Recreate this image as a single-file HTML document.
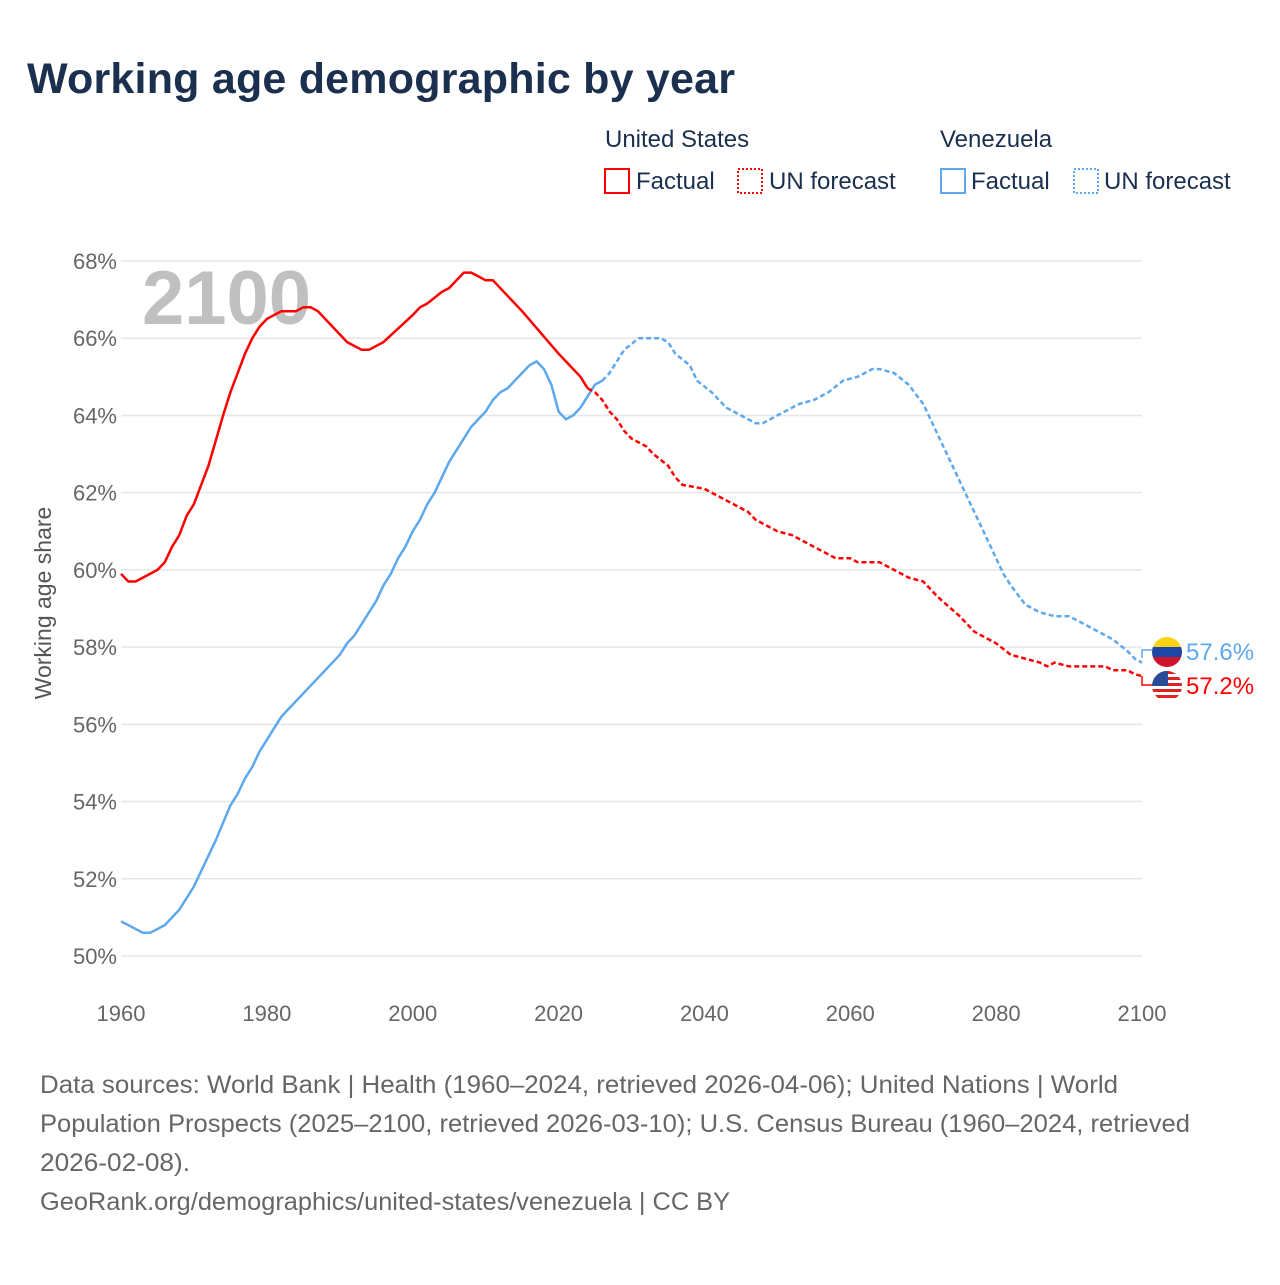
<!DOCTYPE html>
<html><head><meta charset="utf-8"><style>
body{margin:0;background:#fff;font-family:"Liberation Sans",sans-serif;}
svg text{font-family:"Liberation Sans",sans-serif;}
</style></head><body>
<svg width="1280" height="1280" viewBox="0 0 1280 1280" id="chart">
<text x="27" y="93" font-size="43" font-weight="bold" fill="#1b2f4e" textLength="708">Working age demographic by year</text>
<g font-size="24" fill="#1b2f4e">
<text x="605" y="147" fill="#1b2f4e">United States</text>
<text x="940" y="147" fill="#1b2f4e">Venezuela</text>
<g><rect x="605" y="169" width="24" height="24" fill="none" stroke="#ff0000" stroke-width="2"/><text x="636" y="189">Factual</text></g>
<g><rect x="738" y="169" width="24" height="24" fill="none" stroke="#ff0000" stroke-width="2" stroke-dasharray="2,2"/><text x="769" y="189">UN forecast</text></g>
<g><rect x="941" y="169" width="24" height="24" fill="none" stroke="#5ea8ee" stroke-width="2"/><text x="971" y="189">Factual</text></g>
<g><rect x="1074" y="169" width="24" height="24" fill="none" stroke="#5ea8ee" stroke-width="2" stroke-dasharray="2,2"/><text x="1104" y="189">UN forecast</text></g>
</g>
<g id="grid"></g>
<text x="142" y="324" font-size="76" font-weight="bold" fill="#c0c0c0">2100</text>
<text transform="translate(51,603) rotate(-90)" text-anchor="middle" font-size="23" fill="#555">Working age share</text>
<g id="series"></g>
<g>
<path d="M1142 658 L1142 650 L1152 650" fill="none" stroke="#5ea8ee" stroke-width="1.5"/>
<path d="M1142 676 L1142 685 L1152 685" fill="none" stroke="#ff0000" stroke-width="1.5"/>
<g>
<clipPath id="c1"><circle cx="1167" cy="652" r="15"/></clipPath>
<g clip-path="url(#c1)"><rect x="1150" y="636" width="34" height="11" fill="#fcd116"/><rect x="1150" y="647" width="34" height="10" fill="#1c46a8"/><rect x="1150" y="657" width="34" height="12" fill="#cf142b"/></g></g>
<g>
<clipPath id="c2"><circle cx="1167" cy="686" r="15"/></clipPath>
<g clip-path="url(#c2)"><rect x="1150" y="670" width="34" height="33" fill="#fff"/>
<rect x="1150" y="671" width="34" height="3" fill="#d22"/><rect x="1150" y="677" width="34" height="3" fill="#d22"/><rect x="1150" y="683" width="34" height="3" fill="#d22"/><rect x="1150" y="689" width="34" height="3" fill="#d22"/><rect x="1150" y="695" width="34" height="3" fill="#d22"/><rect x="1150" y="670" width="18" height="16" fill="#2a4a9a"/></g></g>
<text x="1186" y="660" font-size="24" fill="#5ea8ee">57.6%</text>
<text x="1186" y="694" font-size="24" fill="#ff0000">57.2%</text>
</g>
<g fill="#666">
<text x="40" y="1093" font-size="25" textLength="1078" lengthAdjust="spacingAndGlyphs">Data sources: World Bank | Health (1960–2024, retrieved 2026-04-06); United Nations | World</text>
<text x="40" y="1132" font-size="25" textLength="1150" lengthAdjust="spacingAndGlyphs">Population Prospects (2025–2100, retrieved 2026-03-10); U.S. Census Bureau (1960–2024, retrieved</text>
<text x="40" y="1171" font-size="25" textLength="150" lengthAdjust="spacingAndGlyphs">2026-02-08).</text>
<text x="40" y="1210" font-size="25" textLength="690" lengthAdjust="spacingAndGlyphs">GeoRank.org/demographics/united-states/venezuela | CC BY</text>
</g>
</svg>
<script>
const yTicks=[50,52,54,56,58,60,62,64,66,68];
const xTicks=[1960,1980,2000,2020,2040,2060,2080,2100];
const usFactYears=[1960,1961,1962,1965,1966,1967,1968,1969,1970,1972,1974,1975,1977,1978,1979,1980,1982,1984,1985,1986,1987,1990,1991,1993,1994,1996,2000,2001,2002,2004,2005,2007,2008,2009,2010,2011,2015,2020,2021,2023,2024];
const usFactVals=[59.9,59.7,59.7,60.0,60.2,60.6,60.9,61.4,61.7,62.7,64.0,64.6,65.6,66.0,66.3,66.5,66.7,66.7,66.8,66.8,66.7,66.1,65.9,65.7,65.7,65.9,66.6,66.8,66.9,67.2,67.3,67.7,67.7,67.6,67.5,67.5,66.7,65.6,65.4,65.0,64.7];
const usFcYears=[2024,2025,2026,2027,2028,2029,2030,2032,2033,2035,2036,2037,2040,2043,2046,2047,2050,2052,2055,2058,2060,2061,2064,2066,2068,2070,2072,2075,2077,2080,2082,2084,2086,2087,2088,2090,2095,2096,2098,2099,2100];
const usFcVals=[64.7,64.6,64.4,64.1,63.9,63.6,63.4,63.2,63.0,62.7,62.4,62.2,62.1,61.8,61.5,61.3,61.0,60.9,60.6,60.3,60.3,60.2,60.2,60.0,59.8,59.7,59.3,58.8,58.4,58.1,57.8,57.7,57.6,57.5,57.6,57.5,57.5,57.4,57.4,57.3,57.25];
const veFactYears=[1960,1963,1964,1966,1968,1970,1973,1975,1976,1977,1978,1979,1982,1983,1986,1990,1991,1992,1995,1996,1997,1998,1999,2000,2001,2002,2003,2005,2006,2008,2010,2011,2012,2013,2015,2016,2017,2018,2019,2020,2021,2022,2023,2025,2026];
const veFactVals=[50.9,50.6,50.6,50.8,51.2,51.8,53.0,53.9,54.2,54.6,54.9,55.3,56.2,56.4,57.0,57.8,58.1,58.3,59.2,59.6,59.9,60.3,60.6,61.0,61.3,61.7,62.0,62.8,63.1,63.7,64.1,64.4,64.6,64.7,65.1,65.3,65.4,65.2,64.8,64.1,63.9,64.0,64.2,64.8,64.9];
const veFcYears=[2026,2027,2028,2029,2031,2034,2035,2036,2038,2039,2041,2043,2045,2047,2048,2050,2053,2055,2057,2059,2061,2062,2063,2064,2066,2068,2070,2071,2073,2075,2077,2079,2081,2082,2084,2085,2086,2088,2090,2092,2095,2096,2098,2099,2100];
const veFcVals=[64.9,65.1,65.4,65.7,66.0,66.0,65.9,65.6,65.3,64.9,64.6,64.2,64.0,63.8,63.8,64.0,64.3,64.4,64.6,64.9,65.0,65.1,65.2,65.2,65.1,64.8,64.3,63.9,63.1,62.3,61.5,60.7,59.9,59.6,59.1,59.0,58.9,58.8,58.8,58.6,58.3,58.2,57.9,57.7,57.6];
const NS='http://www.w3.org/2000/svg';
const xS=y=>121+(y-1960)*(1142-121)/140;
const yS=v=>956-(v-50)*(956-261)/18;
const grid=document.getElementById('grid');
yTicks.forEach(t=>{
 const l=document.createElementNS(NS,'line');
 l.setAttribute('x1',121);l.setAttribute('x2',1142);l.setAttribute('y1',yS(t));l.setAttribute('y2',yS(t));
 l.setAttribute('stroke','#e6e6e6');l.setAttribute('stroke-width','1.5');
 
 
 grid.appendChild(l);
 const tx=document.createElementNS(NS,'text');
 tx.setAttribute('x',117);tx.setAttribute('y',yS(t)+8);tx.setAttribute('text-anchor','end');
 tx.setAttribute('font-size','22');tx.setAttribute('fill','#666');tx.textContent=t+'%';
 
 
 grid.appendChild(tx);
});
xTicks.forEach(t=>{
 const tx=document.createElementNS(NS,'text');
 tx.setAttribute('x',xS(t));tx.setAttribute('y',1021);tx.setAttribute('text-anchor','middle');
 tx.setAttribute('font-size','22');tx.setAttribute('fill','#666');tx.textContent=t;
 
 
 grid.appendChild(tx);
});
const ser=document.getElementById('series');
function draw(ys,vs,color,dash,name){
 const p=document.createElementNS(NS,'path');
 p.setAttribute('d',ys.map((y,i)=>(i?'L':'M')+xS(y).toFixed(1)+' '+yS(vs[i]).toFixed(1)).join(' '));
 p.setAttribute('fill','none');p.setAttribute('stroke',color);p.setAttribute('stroke-width','2.5');
 p.setAttribute('stroke-linejoin','round');
 if(dash)p.setAttribute('stroke-dasharray','5,3');
 
 
 ser.appendChild(p);
}
draw(veFactYears,veFactVals,'#5ea8ee',false,'venezuela-factual-line');
draw(veFcYears,veFcVals,'#5ea8ee',true,'venezuela-forecast-line');
draw(usFactYears,usFactVals,'#ff0000',false,'us-factual-line');
draw(usFcYears,usFcVals,'#ff0000',true,'us-forecast-line');
</script>
</body></html>
